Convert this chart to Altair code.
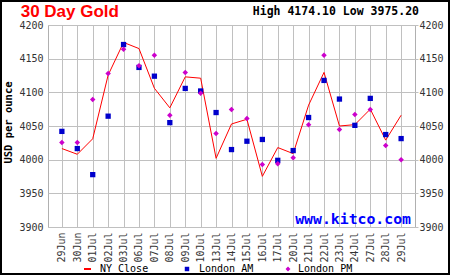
import altair as alt
import pandas as pd

dates = ["29Jun", "30Jun", "01Jul", "02Jul", "03Jul", "06Jul", "07Jul", "08Jul",
         "09Jul", "10Jul", "13Jul", "14Jul", "15Jul", "16Jul", "17Jul", "20Jul",
         "21Jul", "22Jul", "23Jul", "24Jul", "27Jul", "28Jul", "29Jul"]
ny_close = [4016.5, 4008, 4031, 4125.6, 4174.1, 4165, 4106, 4077, 4123, 4121,
            4002, 4053, 4060, 3975.2, 4018, 4009, 4081, 4129.6, 4050, 4052,
            4075, 4029, 4066]
london_am = [4042, 4016.5, 3977.8, 4064.6, 4171, 4137, 4124, 4055, 4105.8, 4102,
             4070, 4015, 4027.4, 4030, 3999, 4013.5, 4062.6, 4117.7, 4090, 4051,
             4091, 4037.3, 4031.3]
london_pm = [4025.4, 4025.4, 4089.4, 4128, 4164, 4139.5, 4155, 4066, 4129.6, 4098.8,
             4039, 4074.5, 4061, 3992.7, 3994, 4003, 4052, 4155, 4044.7, 4067,
             4074.5, 4021, 4000]
series_names = ["NY Close", "London AM", "London PM"]
series_colors = ["#ff0000", "#0000cc", "#cc00cc"]
y_ticks = [3900, 3950, 4000, 4050, 4100, 4150, 4200]
title_text = "30 Day Gold"
hilo_text = "High 4174.10 Low 3975.20"
y_title = "USD per ounce"
watermark = "www.kitco.com"

df = pd.DataFrame({"date": dates, "ny": ny_close, "am": london_am, "pm": london_pm})

W, H = 367, 202
PL, PT = 48, 25
MONO = "DejaVu Sans Mono"

xs = alt.X("date:O", sort=dates, scale=alt.Scale(type="point", padding=0.9),
           axis=alt.Axis(title=None, labelAngle=-90, labelAlign="right", labelBaseline="middle",
                         labelPadding=5, ticks=False, domain=False, grid=True,
                         gridColor="#c0c0c0", labelFont=MONO, labelFontSize=10,
                         labelColor="#333333"))
yscale = alt.Scale(domain=[3900, 4200], nice=False, zero=False)

base = alt.Chart(df)

line = base.mark_line(color=series_colors[0], strokeWidth=1).encode(
    x=xs,
    y=alt.Y("ny:Q", scale=yscale,
            axis=alt.Axis(values=y_ticks, format="d", title=y_title, orient="left", ticks=False,
                          domain=False, grid=True, gridColor="#c0c0c0", labelPadding=5,
                          labelFont=MONO, labelFontSize=10, labelColor="#333333",
                          titleFont=MONO, titleFontSize=10.5, titleFontWeight="bold",
                          titleColor="#000000", titleX=-39.5, titleY=97,
                          titleAngle=-90, titleAlign="center", titleBaseline="middle")),
)

am = base.mark_point(shape="square", filled=True, size=28, color=series_colors[1], opacity=1).encode(
    x=alt.X("date:O", sort=dates),
    y=alt.Y("am:Q", scale=yscale,
            axis=alt.Axis(values=y_ticks, format="d", title=None, orient="right", ticks=True,
                          tickSize=3, tickColor="#c0c0c0", domain=False, grid=False,
                          labelPadding=1, labelFont=MONO, labelFontSize=10,
                          labelColor="#333333")),
)

pm = base.mark_point(shape="diamond", filled=True, size=30, color=series_colors[2], opacity=1).encode(
    x=alt.X("date:O", sort=dates),
    y=alt.Y("pm:Q", scale=yscale, axis=None),
)

one = alt.Data(values=[{"a": 1}])

def txt(text, x, y, **kw):
    return alt.Chart(one).mark_text(text=text, **kw).encode(x=alt.value(x), y=alt.value(y))

title = txt(title_text, 20.7 - PL, 17 - PT, align="left", baseline="alphabetic",
            font="Liberation Sans", fontSize=17, fontWeight="bold", color="#ff0000")
hilo = txt(hilo_text, 419 - PL, 15 - PT, align="right", baseline="alphabetic",
           font=MONO, fontSize=11.5, fontWeight="bold", color="#000000")
wm = txt(watermark, 411 - PL, 224 - PT, align="right", baseline="alphabetic",
         font=MONO, fontSize=14.8, fontWeight="bold", color="#0000ff")

ly = 269 - PT
leg_line = alt.Chart(one).mark_rule(color=series_colors[0], strokeWidth=2).encode(
    x=alt.value(84 - PL), x2=alt.value(91 - PL), y=alt.value(ly))
leg_sq = alt.Chart(one).mark_point(shape="square", filled=True, size=20, color=series_colors[1], opacity=1).encode(
    x=alt.value(187 - PL), y=alt.value(ly))
leg_dm = alt.Chart(one).mark_point(shape="diamond", filled=True, size=24, color=series_colors[2], opacity=1).encode(
    x=alt.value(288 - PL), y=alt.value(ly))
leg_t = [txt(series_names[i], xp - PL, ly, align="left", baseline="middle", font=MONO,
             fontSize=10, color="#000000")
         for i, xp in enumerate([100, 199, 298])]

border = alt.Chart(one).mark_rect(fill=None, stroke="#000000", strokeWidth=2).encode(
    x=alt.value(1 - PL), x2=alt.value(449 - PL), y=alt.value(1 - PT), y2=alt.value(274 - PT))

chart = alt.layer(line, am, pm, title, hilo, wm, leg_line, leg_sq, leg_dm, *leg_t, border).resolve_axis(
    y="independent"
).properties(
    width=W, height=H, autosize=alt.AutoSizeParams(type="none"),
    padding={"left": PL, "top": PT, "right": 450 - PL - W, "bottom": 275 - PT - H},
    background="#ffffff",
).configure_view(stroke="#b0b0b0", strokeWidth=1)

chart.save("out.html", embed_options={"renderer": "svg", "actions": False})
